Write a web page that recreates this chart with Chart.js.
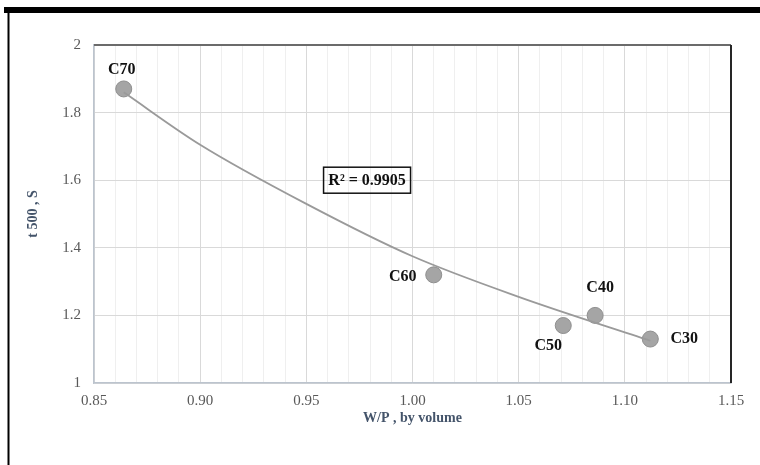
<!DOCTYPE html>
<html>
<head>
<meta charset="utf-8">
<script src="https://cdn.jsdelivr.net/npm/chart.js@4.4.0/dist/chart.umd.min.js"></script>
<style>
  html, body { margin: 0; padding: 0; background: #fff; }
  #wrap { width: 760px; height: 465px; position: relative; }
</style>
</head>
<body>
<div id="wrap"><canvas id="chart" width="760" height="465"></canvas></div>
<script>
// Mixes and measured values
const mixLabels = ['C70', 'C60', 'C50', 'C40', 'C30'];
const wpRatio = [0.864, 1.010, 1.071, 1.086, 1.112];
const t500 = [1.87, 1.32, 1.17, 1.20, 1.13];

// Trend line
const trendX = [0.864, 0.90, 0.95, 1.00, 1.05, 1.112];
const trendY = [1.86, 1.705, 1.53, 1.375, 1.255, 1.125];
const rSquaredText = 'R\u00B2 = 0.9905';

// Tick labels
const xTickLabels = ['0.85', '0.90', '0.95', '1.00', '1.05', '1.10', '1.15'];
const yTickLabels = ['1', '1.2', '1.4', '1.6', '1.8', '2'];

const serif = "'Liberation Serif', 'Times New Roman', serif";

// where each mix label sits relative to its point (px)
const labelOffsets = {
  C70: [-2, -19],
  C60: [-31, 2],
  C50: [-15, 20],
  C40: [5, -28],
  C30: [34, 0]
};

const decorPlugin = {
  id: 'decor',
  beforeDraw(chart) {
    const ctx = chart.ctx;
    ctx.save();
    ctx.fillStyle = '#fff';
    ctx.fillRect(0, 0, chart.width, chart.height);
    ctx.restore();
  },
  afterDatasetsDraw(chart) {
    const ctx = chart.ctx;
    const xs = chart.scales.x;
    const ys = chart.scales.y;
    const area = chart.chartArea;
    ctx.save();

    // top and right edges of the plot
    ctx.strokeStyle = '#6b6b6b';
    ctx.lineWidth = 2;
    ctx.beginPath();
    ctx.moveTo(area.left, area.top);
    ctx.lineTo(area.right, area.top);
    ctx.stroke();
    ctx.strokeStyle = '#262626';
    ctx.beginPath();
    ctx.moveTo(area.right, area.top);
    ctx.lineTo(area.right, area.bottom);
    ctx.stroke();

    // mix labels
    ctx.font = 'bold 16px ' + serif;
    ctx.fillStyle = '#111';
    ctx.textAlign = 'center';
    ctx.textBaseline = 'middle';
    mixLabels.forEach((name, i) => {
      const px = xs.getPixelForValue(wpRatio[i]);
      const py = ys.getPixelForValue(t500[i]);
      const off = labelOffsets[name];
      ctx.fillText(name, px + off[0], py + off[1]);
    });

    // R² box
    const bx = xs.getPixelForValue(0.9786);
    const by = ys.getPixelForValue(1.60);
    ctx.strokeStyle = '#111';
    ctx.lineWidth = 1.5;
    ctx.strokeRect(bx - 43.5, by - 13, 87, 26);
    ctx.font = 'bold 16px ' + serif;
    ctx.fillText(rSquaredText, bx, by + 1);

    // page frame: thick bar on top, thin line on the left
    ctx.fillStyle = '#000';
    ctx.fillRect(4, 7, 756, 6);
    ctx.fillRect(7.5, 13, 2, chart.height - 13);
    ctx.restore();
  }
};

new Chart(document.getElementById('chart'), {
  type: 'scatter',
  data: {
    datasets: [
      {
        type: 'line',
        data: trendX.map((x, i) => ({ x: x, y: trendY[i] })),
        borderColor: '#9a9a9a',
        borderWidth: 1.8,
        pointRadius: 0,
        tension: 0.4,
        cubicInterpolationMode: 'monotone',
        fill: false,
        order: 0
      },
      {
        data: wpRatio.map((x, i) => ({ x: x, y: t500[i] })),
        backgroundColor: '#a5a5a5',
        borderColor: '#8f8f8f',
        borderWidth: 1,
        pointRadius: 8,
        order: 1
      }
    ]
  },
  options: {
    responsive: false,
    animation: false,
    devicePixelRatio: 1,
    layout: { padding: { left: 0, right: 29, top: 45, bottom: 0 } },
    plugins: {
      legend: { display: false },
      tooltip: { enabled: false }
    },
    scales: {
      x: {
        type: 'linear',
        min: 0.85,
        max: 1.15,
        afterFit: (scale) => { scale.height = 82; },
        afterBuildTicks: (scale) => {
          const ticks = [];
          for (let k = 85; k <= 115; k++) ticks.push({ value: k / 100 });
          scale.ticks = ticks;
        },
        border: { color: '#bcc4ce', width: 1.5 },
        grid: {
          drawTicks: false,
          color: (ctx) => {
            const k = Math.round(ctx.tick.value * 100);
            return k % 5 === 0 ? '#d9d9d9' : '#efefef';
          }
        },
        ticks: {
          autoSkip: false,
          maxRotation: 0,
          padding: 9,
          color: '#595959',
          font: { family: serif, size: 15 },
          callback: (value) => {
            const k = Math.round(value * 100);
            if (k % 5 !== 0) return '';
            return xTickLabels[(k - 85) / 5];
          }
        },
        title: {
          display: true,
          text: 'W/P , by volume',
          color: '#44546a',
          font: { family: serif, size: 14, weight: 'bold' },
          padding: { top: 0, bottom: 38 }
        }
      },
      y: {
        type: 'linear',
        min: 1,
        max: 2,
        afterFit: (scale) => { scale.width = 94; },
        afterBuildTicks: (scale) => {
          scale.ticks = yTickLabels.map((t) => ({ value: parseFloat(t) }));
        },
        border: { color: '#bcc4ce', width: 1.5 },
        grid: { drawTicks: false, color: '#d9d9d9' },
        ticks: {
          padding: 13,
          color: '#595959',
          font: { family: serif, size: 15 },
          callback: (value) => {
            const i = yTickLabels.findIndex((t) => Math.abs(parseFloat(t) - value) < 1e-6);
            return i >= 0 ? yTickLabels[i] : '';
          }
        },
        title: {
          display: true,
          text: 't 500 , S',
          color: '#44546a',
          font: { family: serif, size: 14, weight: 'bold' },
          padding: { top: 25, bottom: 0 }
        }
      }
    }
  },
  plugins: [decorPlugin]
});
</script>
</body>
</html>
